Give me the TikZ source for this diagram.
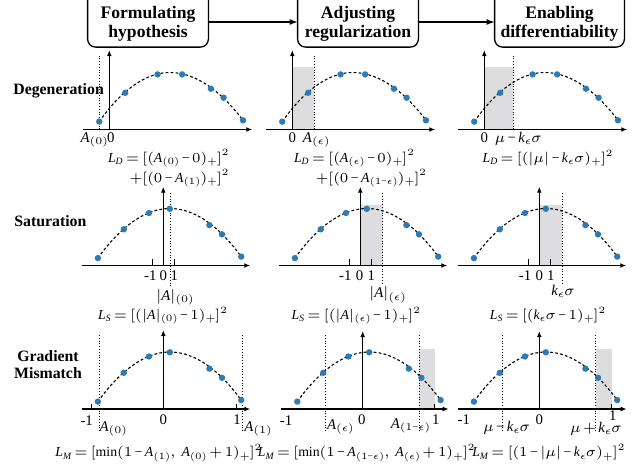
\documentclass[tikz,border=0pt]{standalone}
\usepackage{fix-cm}
\usepackage{amsmath}
\usepackage{fontspec}
\setmainfont{Liberation Serif}
\newfontfamily\libserif[NFSSFamily=libserif]{Liberation Serif}
\DeclareSymbolFont{libit}{TU}{libserif}{m}{it}
\DeclareMathSymbol{A}{\mathalpha}{libit}{`A}
\DeclareMathSymbol{D}{\mathalpha}{libit}{`D}
\DeclareMathSymbol{L}{\mathalpha}{libit}{`L}
\DeclareMathSymbol{M}{\mathalpha}{libit}{`M}
\DeclareMathSymbol{S}{\mathalpha}{libit}{`S}
\DeclareMathSymbol{k}{\mathalpha}{libit}{`k}
\newcommand{\tminus}{\mathbin{\text{−}}}
\medmuskip=2.5mu plus 1mu minus 1mu
\thickmuskip=3.5mu plus 1mu
\scriptspace=0pt
\jot=0pt
\usetikzlibrary{arrows.meta}
\definecolor{dotblue}{RGB}{44,123,182}
\definecolor{shadegray}{RGB}{221,221,223}

\tikzset{
  stagetext/.style={align=center, font=\fontsize{8.8}{9.5}\selectfont\bfseries,
    minimum height=22.7pt, inner sep=1pt},
  stageframe/.style={rounded corners=4pt, line width=0.65pt},
  rowlabel/.style={font=\fontsize{7.9}{8.6}\selectfont\bfseries, inner sep=0pt, align=center},
  axis/.style={line width=0.65pt, -{Latex[length=3pt,width=2.4pt]}},
  curve/.style={line width=0.55pt, dash pattern=on 1.4pt off 1.1pt},
  guide/.style={line width=0.5pt, dash pattern=on 0.5pt off 0.9pt},
  shade/.style={fill=shadegray},
  tickmark/.style={line width=0.5pt},
  lbl/.style={font=\fontsize{7.4}{8.2}\selectfont, inner sep=0pt, anchor=base},
  loss/.style={font=\fontsize{6.9}{7.7}\selectfont, inner sep=0pt, anchor=base},
}

\begin{document}
\begin{tikzpicture}[x=0.5pt,y=-0.5pt]
  \useasboundingbox (0,0) rectangle (637,467);

  % stages (frames run past the top edge)
  \node[stagetext, minimum width=60pt] (formulating) at (148,24) {Formulating\\hypothesis};
  \node[stagetext, minimum width=60pt] (adjusting) at (358,24) {Adjusting\\regularization};
  \node[stagetext, minimum width=64.5pt] (enabling) at (559.5,24) {Enabling\\differentiability};
  \draw[stageframe] (formulating.south west) rectangle ([yshift=10pt]formulating.north east);
  \draw[stageframe] (adjusting.south west) rectangle ([yshift=10pt]adjusting.north east);
  \draw[stageframe] (enabling.south west) rectangle ([yshift=10pt]enabling.north east);
  \draw[line width=0.6pt, -{Latex[length=4pt,width=3pt]}] ([yshift=1pt]formulating.east) -- ([yshift=1pt]adjusting.west);
  \draw[line width=0.6pt, -{Latex[length=4pt,width=3pt]}] ([yshift=1pt]adjusting.east) -- ([yshift=1pt]enabling.west);

  % row labels
  \node[rowlabel, anchor=base west] (degen) at (13,94) {Degeneration};
  \node[rowlabel, anchor=base west] (satur) at (14,226) {Saturation};
  \node[rowlabel] (mismatch) at (48,364.5) {Gradient\\Mismatch};

  % row 1: degeneration
  \begin{scope}[shift={(109.3,129.5)}]
    \draw[guide] (-10,-74) -- (-10,0);
    \draw[curve] (-10.1,-7.9) parabola bend (60.5,-57) (133.7,-9.2);
    \draw[axis] (-26.5,0) -- (143,0);
    \draw[axis] (0,0) -- (0,-79.5);
    \foreach \px/\py in {-10.1/-7.9, 15.9/-36.7, 48.3/-55.1, 72.8/-55.1, 101.6/-40.8, 114.3/-31.8, 133.7/-9.2}
      \fill[dotblue] (\px,\py) circle (1.6pt);
    \node[lbl] (d1a) at (-15,12.5) {$A_{(0)}$};
    \node[lbl] (d1z) at (1.5,12.5) {0};
    \node[loss] (d1loss) at (59,32.5) {$\begin{aligned}[t] L_D ={}& [(A_{(0)}\tminus 0)_+]^2\\ &\llap{$+$}[(0\tminus A_{(1)})_+]^2\end{aligned}$};
  \end{scope}
  \begin{scope}[shift={(292.3,129.5)}]
    \fill[shade] (0,-62.5) rectangle (22,0);
    \draw[guide] (22,-74) -- (22,0);
    \draw[curve] (-10.1,-7.9) parabola bend (60.5,-57) (133.7,-9.2);
    \draw[axis] (-26.5,0) -- (143,0);
    \draw[axis] (0,0) -- (0,-79.5);
    \foreach \px/\py in {-10.1/-7.9, 15.9/-36.7, 48.3/-55.1, 72.8/-55.1, 101.6/-40.8, 114.3/-31.8, 133.7/-9.2}
      \fill[dotblue] (\px,\py) circle (1.6pt);
    \node[lbl] (d2z) at (0,12.5) {0};
    \node[lbl] (d2a) at (24,12.5) {$A_{(\epsilon)}$};
    \node[loss] (d2loss) at (67.7,32.5) {$\begin{aligned}[t] L_D ={}& [(A_{(\epsilon)}\tminus 0)_+]^2\\ &\llap{$+$}[(0\tminus A_{(1\tminus\epsilon)})_+]^2\end{aligned}$};
  \end{scope}
  \begin{scope}[shift={(484.3,129.5)}]
    \fill[shade] (0,-62.5) rectangle (29,0);
    \draw[guide] (29,-74) -- (29,0);
    \draw[curve] (-10.1,-7.9) parabola bend (60.5,-57) (133.7,-9.2);
    \draw[axis] (-26.5,0) -- (143,0);
    \draw[axis] (0,0) -- (0,-79.5);
    \foreach \px/\py in {-10.1/-7.9, 15.9/-36.7, 48.3/-55.1, 72.8/-55.1, 101.6/-40.8, 114.3/-31.8, 133.7/-9.2}
      \fill[dotblue] (\px,\py) circle (1.6pt);
    \node[lbl] (d3z) at (0,12.5) {0};
    \node[lbl] (d3a) at (34,12.5) {$\mu\tminus k_{\epsilon}\sigma$};
    \node[loss] (d3loss) at (63.2,32.5) {$L_D=[(\lvert\mu\rvert\tminus k_{\epsilon}\sigma)_+]^2$};
  \end{scope}

  % row 2: saturation
  \begin{scope}[shift={(163.3,265.5)}]
    \draw[guide] (6.7,-72.5) -- (6.7,21.5);
    \draw[curve] (-65.4,-7.4) parabola bend (6.8,-57) (77.9,-8.9);
    \draw[tickmark] (-11.3,0) -- (-11.3,-7) (11.3,0) -- (11.3,-7);
    \draw[axis] (-81.7,0) -- (87,0);
    \draw[axis] (0,0) -- (0,-78.8);
    \foreach \px/\py in {-65.4/-7.4, -39.5/-36.2, -14.3/-52.5, 6.5/-56.7, 46.1/-40.4, 58.7/-31.2, 77.9/-8.9}
      \fill[dotblue] (\px,\py) circle (1.6pt);
    \node[lbl] (s1m) at (-13,15) {-1};
    \node[lbl] (s1z) at (0,15) {0};
    \node[lbl] (s1p) at (11,15) {1};
    \node[lbl] (s1a) at (11.7,34.5) {$\lvert A\rvert_{(0)}$};
    \node[loss] (s1loss) at (-0.8,53.8) {$L_S=[(\lvert A\rvert_{(0)}\tminus 1)_+]^2$};
  \end{scope}
  \begin{scope}[shift={(360.3,265.5)}]
    \fill[shade] (0,-60.5) rectangle (22.3,0);
    \draw[guide] (22.3,-72.5) -- (22.3,19.5);
    \draw[curve] (-65.4,-7.4) parabola bend (6.8,-57) (77.9,-8.9);
    \draw[tickmark] (-11.3,0) -- (-11.3,-7) (11.3,0) -- (11.3,-7);
    \draw[axis] (-81.7,0) -- (87,0);
    \draw[axis] (0,0) -- (0,-78.8);
    \foreach \px/\py in {-65.4/-7.4, -39.5/-36.2, -14.3/-52.5, 6.5/-56.7, 46.1/-40.4, 58.7/-31.2, 77.9/-8.9}
      \fill[dotblue] (\px,\py) circle (1.6pt);
    \node[lbl] (s2m) at (-15,15) {-1};
    \node[lbl] (s2z) at (-0.7,15) {0};
    \node[lbl] (s2p) at (11,15) {1};
    \node[lbl] (s2a) at (27.3,32) {$\lvert A\rvert_{(\epsilon)}$};
    \node[loss] (s2loss) at (-4.5,53.8) {$L_S=[(\lvert A\rvert_{(\epsilon)}\tminus 1)_+]^2$};
  \end{scope}
  \begin{scope}[shift={(539.3,265.5)}]
    \fill[shade] (0,-60.5) rectangle (23,0);
    \draw[guide] (23,-72.5) -- (23,19.5);
    \draw[curve] (-65.4,-7.4) parabola bend (6.8,-57) (77.9,-8.9);
    \draw[tickmark] (-11.3,0) -- (-11.3,-7) (11.3,0) -- (11.3,-7);
    \draw[axis] (-81.7,0) -- (87,0);
    \draw[axis] (0,0) -- (0,-78.8);
    \foreach \px/\py in {-65.4/-7.4, -39.5/-36.2, -14.3/-52.5, 6.5/-56.7, 46.1/-40.4, 58.7/-31.2, 77.9/-8.9}
      \fill[dotblue] (\px,\py) circle (1.6pt);
    \node[lbl] (s3m) at (-14.3,15) {-1};
    \node[lbl] (s3z) at (0,15) {0};
    \node[lbl] (s3p) at (11.5,15) {1};
    \node[lbl] (s3k) at (23.7,29.5) {$k_{\epsilon}\sigma$};
    \node[loss] (s3loss) at (8.2,53.8) {$L_S=[(k_{\epsilon}\sigma\tminus 1)_+]^2$};
  \end{scope}

  % row 3: gradient mismatch
  \begin{scope}[shift={(163.3,409)}]
    \draw[guide] (-64.3,-74) -- (-64.3,22.7);
    \draw[guide] (79,-74) -- (79,22.7);
    \draw[curve] (-65.4,-7.4) parabola bend (6.8,-57) (77.9,-8.9);
    \draw[tickmark] (-71.6,0) -- (-71.6,-5) (72.7,0) -- (72.7,-5);
    \draw[axis] (-81.7,0) -- (87,0);
    \draw[axis] (0,0) -- (0,-79);
    \foreach \px/\py in {-65.4/-7.4, -39.5/-36.2, -14.3/-52.5, 6.5/-56.7, 46.1/-40.4, 58.7/-31.2, 77.9/-8.9}
      \fill[dotblue] (\px,\py) circle (1.6pt);
    \node[lbl] (m1m) at (-76.6,16) {-1};
    \node[lbl, anchor=base west] (m1a) at (-64,22) {$A_{(0)}$};
    \node[lbl] (m1z) at (0,15) {0};
    \node[lbl] (m1p) at (73.7,15) {1};
    \node[lbl, anchor=base west] (m1b) at (80.7,22) {$A_{(1)}$};
    \node[loss] (m1loss) at (-5,47.7) {$L_M=[\min(1\tminus A_{(1)},\,A_{(0)}+1)_+]^2$};
  \end{scope}
  \begin{scope}[shift={(362.7,409)}]
    \fill[shade] (56.6,-60) rectangle (72,0);
    \draw[guide] (-37.7,-74) -- (-37.7,22.7);
    \draw[guide] (56.6,-74) -- (56.6,22.7);
    \draw[curve] (-65.4,-7.4) parabola bend (6.8,-57) (77.9,-8.9);
    \draw[tickmark] (72,0) -- (72,-5);
    \draw[axis] (-82,0) -- (86,0);
    \draw[axis] (0,0) -- (0,-78);
    \foreach \px/\py in {-65.4/-7.4, -39.5/-36.2, -14.3/-52.5, 6.5/-56.7, 46.1/-40.4, 58.7/-31.2, 77.9/-8.9}
      \fill[dotblue] (\px,\py) circle (1.6pt);
    \node[lbl] (m2m) at (-76.7,16) {-1};
    \node[lbl, anchor=base west] (m2a) at (-36,20.3) {$A_{(\epsilon)}$};
    \node[lbl] (m2z) at (-1,15) {0};
    \node[lbl, anchor=base east] (m2b) at (68,19.3) {$A_{(1\tminus\epsilon)}$};
    \node[lbl] (m2p) at (73,15) {1};
    \node[loss] (m2loss) at (3.5,47.7) {$L_M=[\min(1\tminus A_{(1\tminus\epsilon)},\,A_{(\epsilon)}+1)_+]^2$};
  \end{scope}
  \begin{scope}[shift={(539.3,409)}]
    \fill[shade] (56.4,-60) rectangle (72.4,0);
    \draw[guide] (-36.6,-74) -- (-36.6,22.7);
    \draw[guide] (56.4,-74) -- (56.4,22.7);
    \draw[curve] (-65.4,-7.4) parabola bend (6.8,-57) (77.9,-8.9);
    \draw[tickmark] (72.4,0) -- (72.4,-5);
    \draw[axis] (-81,0) -- (87.4,0);
    \draw[axis] (0,0) -- (0,-78);
    \foreach \px/\py in {-65.4/-7.4, -39.5/-36.2, -14.3/-52.5, 6.5/-56.7, 46.1/-40.4, 58.7/-31.2, 77.9/-8.9}
      \fill[dotblue] (\px,\py) circle (1.6pt);
    \node[lbl] (m3m) at (-75.5,15) {-1};
    \node[lbl] (m3a) at (-32.6,22) {$\mu\tminus k_{\epsilon}\sigma$};
    \node[lbl] (m3z) at (0,15) {0};
    \node[lbl] (m3b) at (56.7,23.5) {$\mu+k_{\epsilon}\sigma$};
    \node[lbl] (m3p) at (73.5,11.5) {1};
    \node[loss] (m3loss) at (9,47.7) {$L_M=[(1\tminus\lvert\mu\rvert\tminus k_{\epsilon}\sigma)_+]^2$};
  \end{scope}
\end{tikzpicture}
\end{document}
